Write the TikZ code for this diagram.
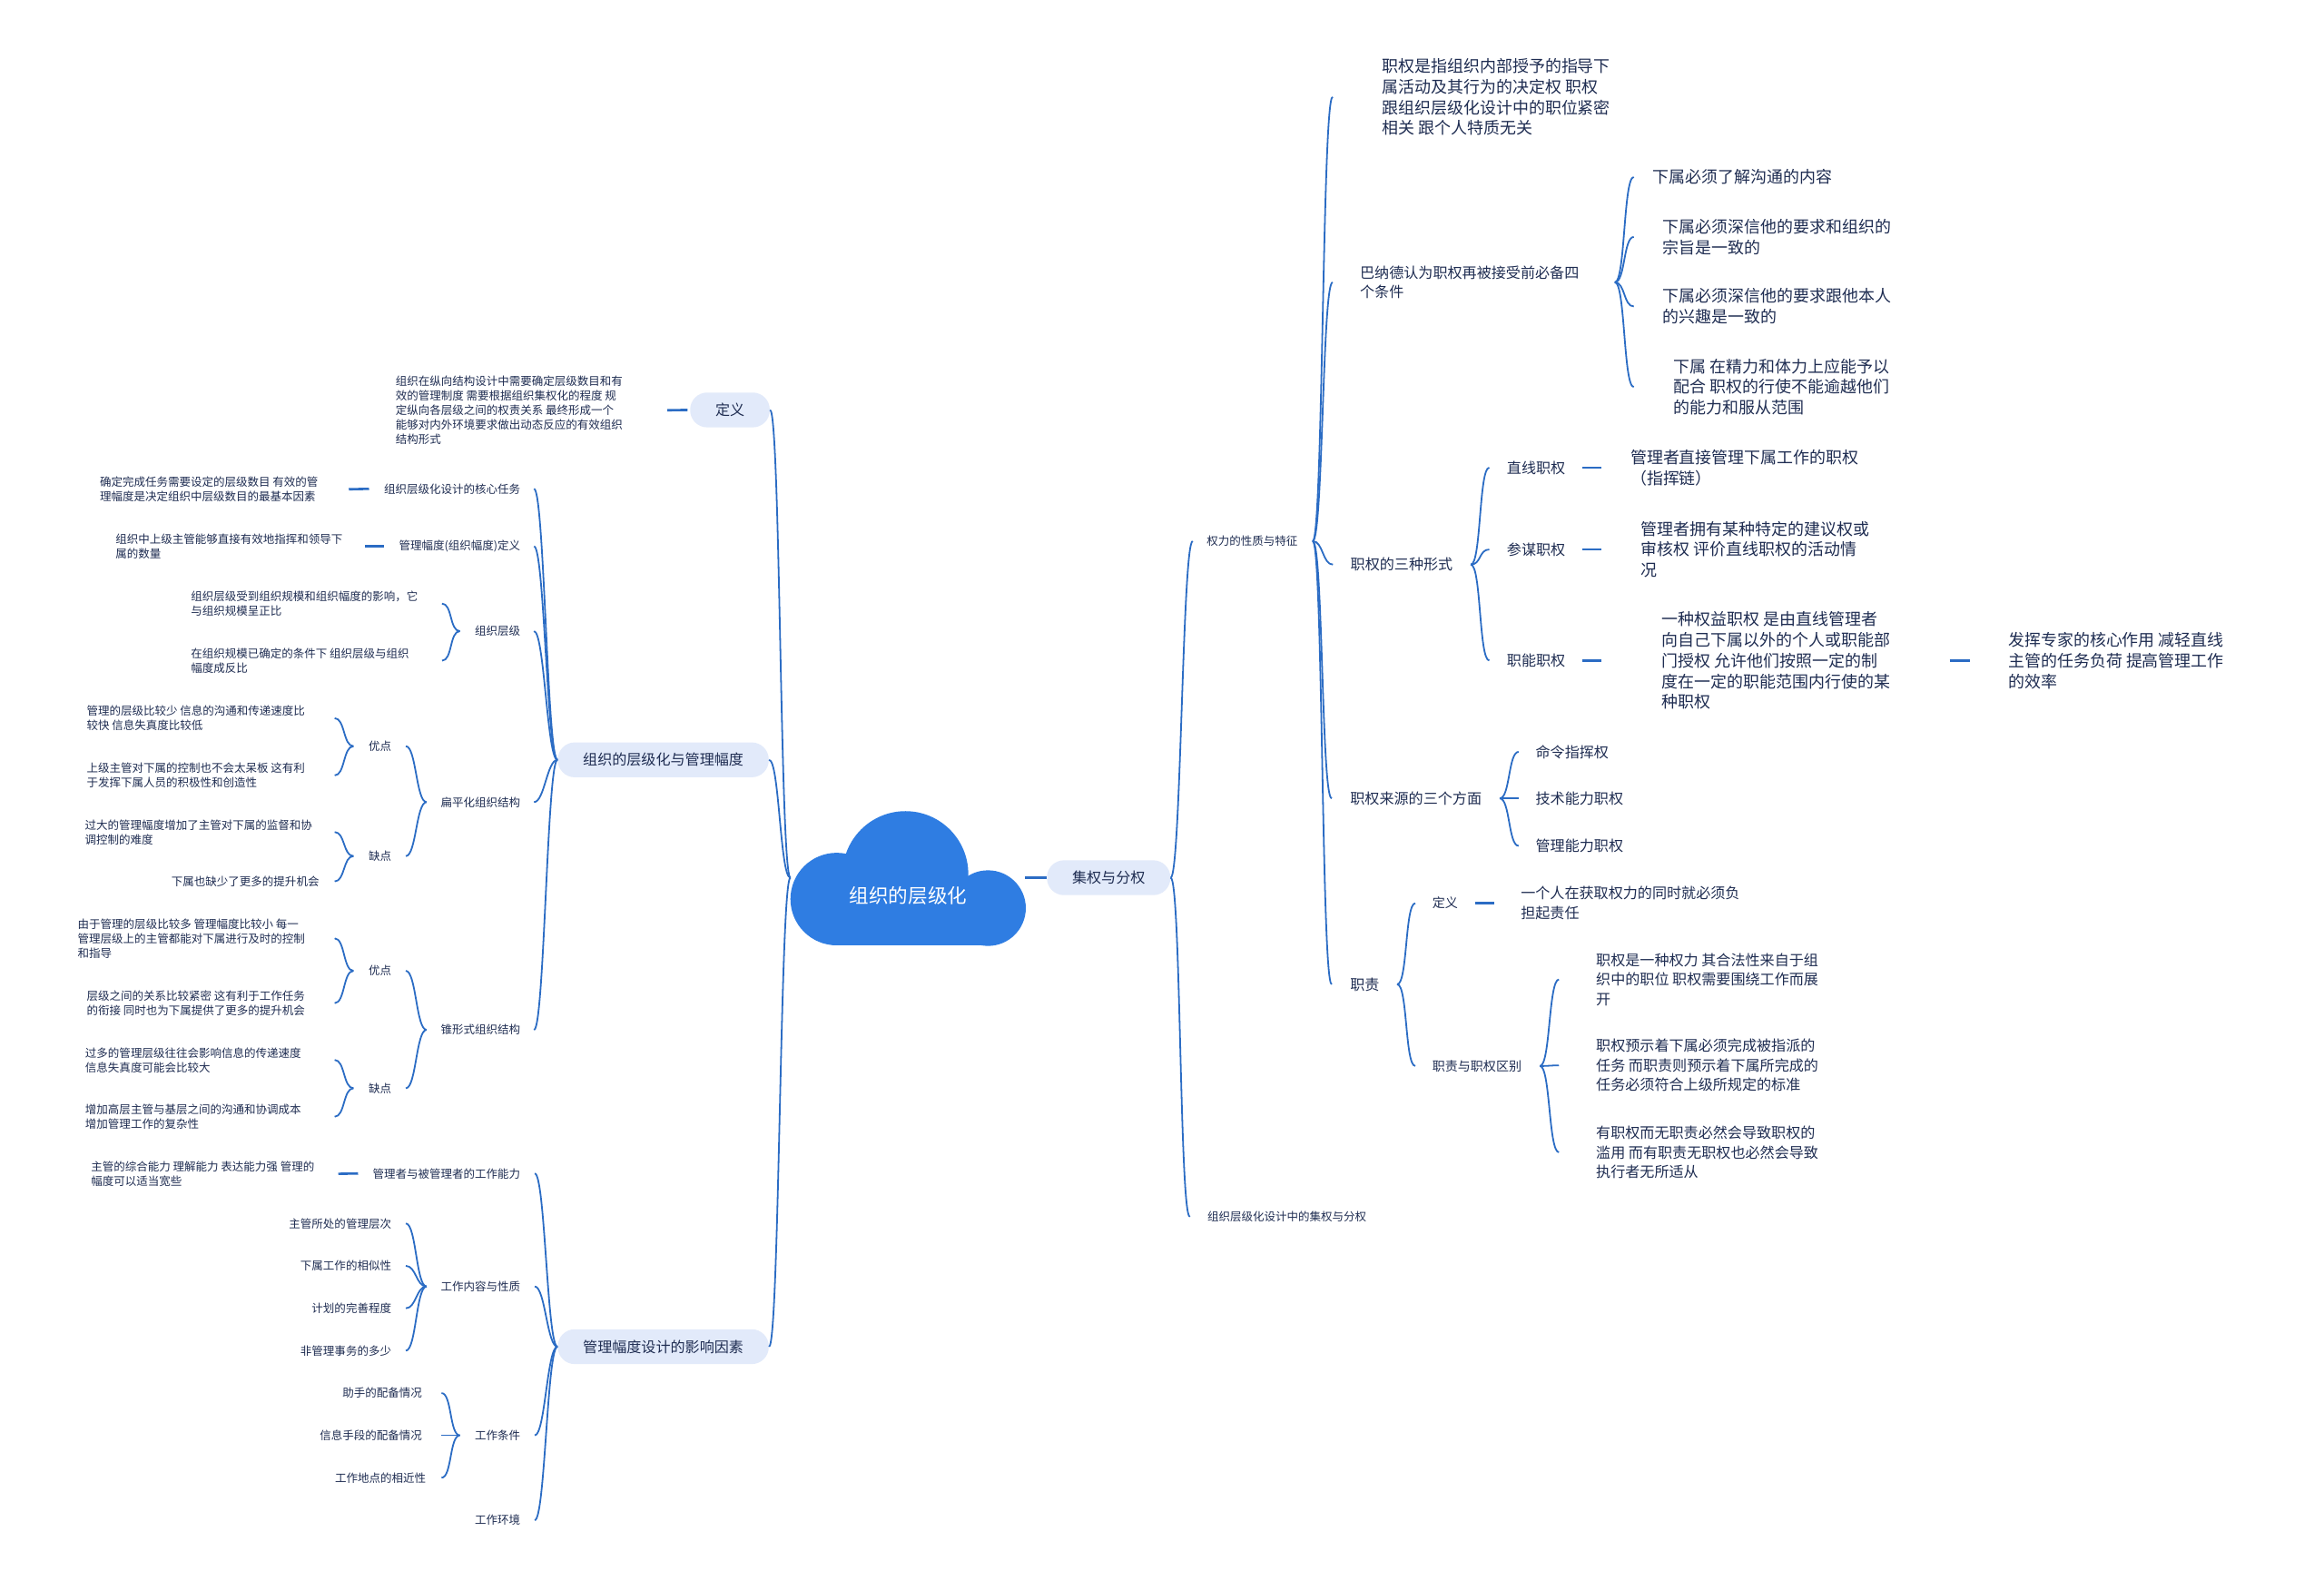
\documentclass[tikz,border=0pt]{standalone}
\usepackage{fontspec}
\setmainfont{Noto Sans CJK SC}

\definecolor{ink}{RGB}{31,45,82}
\definecolor{wire}{RGB}{43,108,196}
\definecolor{cloudblue}{RGB}{47,125,226}
\definecolor{pillfill}{RGB}{226,234,250}

\begin{document}
\begin{tikzpicture}[
    x=1pt, y=-1pt,
    txt/.style={inner sep=0pt, text=ink, align=left},
    xs/.style={txt, font=\fontsize{7.66}{9.8}\selectfont},
    sm/.style={txt, font=\fontsize{8.6}{10.5}\selectfont},
    md/.style={txt, font=\fontsize{9.85}{13.2}\selectfont},
    xl/.style={txt, font=\fontsize{11}{14}\selectfont},
    pill/.style={
        rectangle, fill=pillfill, text=ink,
        rounded corners=11.5pt, inner xsep=17pt, inner ysep=0pt,
        minimum height=23.5pt, font=\fontsize{9.85}{12}\selectfont
    },
    link/.style={draw=wire, line width=1.1pt},
    stub/.style={draw=wire, line width=1.6pt},
    lcurve/.style={out=180, in=0, distance=7pt},
    rcurve/.style={out=0, in=180, distance=7pt},
]
\useasboundingbox (0,0) rectangle (1568,1066);
\fill[white] (0,0) rectangle (1568,1066);

% Cloud
\fill[cloudblue] (564.5,606.4) circle (31.2pt);
\fill[cloudblue] (610.9,589.5) circle (42.4pt);
\fill[cloudblue] (666.6,612.5) circle (25.5pt);
\fill[cloudblue] (564.5,600) rectangle (666.6,637.5);
\node[inner sep=0pt, text=white, font=\fontsize{13.2}{16}\selectfont] (root) at (612.8,604.3) {组织的层级化};
\coordinate (rootL) at (533.3,592);
\coordinate (rootR) at (691.7,592);

% Main topics
\node[pill] (jq) at (748,592) {集权与分权};
\node[pill] (dy) at (492.5,276.5) {定义};
\node[pill] (cj) at (447.5,512.5) {组织的层级化与管理幅度};
\node[pill] (yx) at (447.5,908.3) {管理幅度设计的影响因素};

% Left: definition
\node[xs, anchor=west] (dyt) at (266.7,276.7) {组织在纵向结构设计中需要确定层级数目和有\\效的管理制度 需要根据组织集权化的程度 规\\定纵向各层级之间的权责关系 最终形成一个\\能够对内外环境要求做出动态反应的有效组织\\结构形式};

% Left: levels and span
\node[xs, anchor=east] (hx) at (351.3,329.7) {组织层级化设计的核心任务};
\node[xs, anchor=west] (hxt) at (67.2,330) {确定完成任务需要设定的层级数目 有效的管\\理幅度是决定组织中层级数目的最基本因素};
\node[xs, anchor=east] (gf) at (351.3,368.5) {管理幅度(组织幅度)定义};
\node[xs, anchor=west] (gft) at (77.8,368.5) {组织中上级主管能够直接有效地指挥和领导下\\属的数量};
\node[xs, anchor=east] (cjj) at (351.3,425.7) {组织层级};
\node[xs, anchor=west] (cjj1) at (128.6,407.1) {组织层级受到组织规模和组织幅度的影响，它\\与组织规模呈正比};
\node[xs, anchor=west] (cjj2) at (128.6,445.6) {在组织规模已确定的条件下 组织层级与组织\\幅度成反比};

\node[xs, anchor=east] (bp) at (351.3,541) {扁平化组织结构};
\node[xs, anchor=east] (bpy) at (264.2,503.3) {优点};
\node[xs, anchor=east] (bpq) at (264.2,577.4) {缺点};
\node[xs, anchor=east] (bpy1) at (206,484.4) {管理的层级比较少 信息的沟通和传递速度比\\较快 信息失真度比较低};
\node[xs, anchor=east] (bpy2) at (206,523) {上级主管对下属的控制也不会太呆板 这有利\\于发挥下属人员的积极性和创造性};
\node[xs, anchor=east] (bpq1) at (210.8,561.2) {过大的管理幅度增加了主管对下属的监督和协\\调控制的难度};
\node[xs, anchor=east] (bpq2) at (215.5,594.5) {下属也缺少了更多的提升机会};

\node[xs, anchor=east] (zx) at (351.3,694.6) {锥形式组织结构};
\node[xs, anchor=east] (zxy) at (264.2,654.8) {优点};
\node[xs, anchor=east] (zxq) at (264.2,734) {缺点};
\node[xs, anchor=east] (zxy1) at (205.9,632.9) {由于管理的层级比较多 管理幅度比较小 每一\\管理层级上的主管都能对下属进行及时的控制\\和指导};
\node[xs, anchor=east] (zxy2) at (206,676.6) {层级之间的关系比较紧密 这有利于工作任务\\的衔接 同时也为下属提供了更多的提升机会};
\node[xs, anchor=east] (zxq1) at (203.3,714.9) {过多的管理层级往往会影响信息的传递速度\\信息失真度可能会比较大};
\node[xs, anchor=east] (zxq2) at (203.3,753.2) {增加高层主管与基层之间的沟通和协调成本\\增加管理工作的复杂性};

% Left: factors
\node[xs, anchor=east] (nl) at (351.3,791.5) {管理者与被管理者的工作能力};
\node[xs, anchor=east] (nlt) at (212.3,791.7) {主管的综合能力 理解能力 表达能力强 管理的\\幅度可以适当宽些};
\node[xs, anchor=east] (nr) at (351.3,867.7) {工作内容与性质};
\node[xs, anchor=east] (nr1) at (264.2,825.2) {主管所处的管理层次};
\node[xs, anchor=east] (nr2) at (264.2,853.8) {下属工作的相似性};
\node[xs, anchor=east] (nr3) at (264.2,882.4) {计划的完善程度};
\node[xs, anchor=east] (nr4) at (264.2,911) {非管理事务的多少};
\node[xs, anchor=east] (tj) at (351.3,968.1) {工作条件};
\node[xs, anchor=east] (tj1) at (285,939.6) {助手的配备情况};
\node[xs, anchor=east] (tj2) at (285,968.1) {信息手段的配备情况};
\node[xs, anchor=east] (tj3) at (287.6,996.7) {工作地点的相近性};
\node[xs, anchor=east] (hj) at (351.3,1025.3) {工作环境};

% Right: power
\node[xs, anchor=west] (ql) at (814,365) {权力的性质与特征};
\node[xs, anchor=west] (jf) at (814.5,820.7) {组织层级化设计中的集权与分权};
\node[xl, anchor=west] (qla) at (932.3,65.4) {职权是指组织内部授予的指导下\\属活动及其行为的决定权 职权\\跟组织层级化设计中的职位紧密\\相关 跟个人特质无关};
\node[md, anchor=west] (bnd) at (917.4,190.4) {巴纳德认为职权再被接受前必备四\\个条件};
\node[xl, anchor=west] (bn1) at (1114.9,119.4) {下属必须了解沟通的内容};
\node[xl, anchor=west] (bn2) at (1121.6,159.8) {下属必须深信他的要求和组织的\\宗旨是一致的};
\node[xl, anchor=west] (bn3) at (1121.6,206.7) {下属必须深信他的要求跟他本人\\的兴趣是一致的};
\node[xl, anchor=west] (bn4) at (1129.2,261) {下属 在精力和体力上应能予以\\配合 职权的行使不能逾越他们\\的能力和服从范围};

\node[md, anchor=west] (sz) at (911,380.8) {职权的三种形式};
\node[md, anchor=west] (zhx) at (1016.5,315.4) {直线职权};
\node[xl, anchor=west] (zhxt) at (1099.9,315.4) {管理者直接管理下属工作的职权\\（指挥链）};
\node[md, anchor=west] (cm) at (1016.5,370.6) {参谋职权};
\node[xl, anchor=west] (cmt) at (1107,370.6) {管理者拥有某种特定的建议权或\\审核权 评价直线职权的活动情\\况};
\node[md, anchor=west] (zn) at (1016.5,445.5) {职能职权};
\node[xl, anchor=west] (znt) at (1121,445.5) {一种权益职权 是由直线管理者\\向自己下属以外的个人或职能部\\门授权 允许他们按照一定的制\\度在一定的职能范围内行使的某\\种职权};
\node[xl, anchor=west] (znt2) at (1354.8,445.5) {发挥专家的核心作用 减轻直线\\主管的任务负荷 提高管理工作\\的效率};

\node[md, anchor=west] (ly) at (910.8,538.5) {职权来源的三个方面};
\node[md, anchor=west] (ly1) at (1035.9,507.1) {命令指挥权};
\node[md, anchor=west] (ly2) at (1035.9,538.5) {技术能力职权};
\node[md, anchor=west] (ly3) at (1035.9,570.5) {管理能力职权};

\node[md, anchor=west] (zz) at (910.8,663.9) {职责};
\node[sm, anchor=west] (zzd) at (966.2,609.2) {定义};
\node[md, anchor=west] (zzdt) at (1025.9,609.2) {一个人在获取权力的同时就必须负\\担起责任};
\node[sm, anchor=west] (zzq) at (966.2,719) {职责与职权区别};
\node[md, anchor=west] (zzq1) at (1076.7,660.6) {职权是一种权力 其合法性来自于组\\织中的职位 职权需要围绕工作而展\\开};
\node[md, anchor=west] (zzq2) at (1076.7,718.6) {职权预示着下属必须完成被指派的\\任务 而职责则预示着下属所完成的\\任务必须符合上级所规定的标准};
\node[md, anchor=west] (zzq3) at (1076.7,777.2) {有职权而无职责必然会导致职权的\\滥用 而有职责无职权也必然会导致\\执行者无所适从};

% Connectors: root
\draw[link] (rootL) to[lcurve] (dy.east);
\draw[link] (rootL) to[lcurve] (cj.east);
\draw[link] (rootL) to[lcurve] (yx.east);
\draw[stub] (rootR) -- (jq.west);

% Connectors: left
\draw[stub] ([xshift=-1.5pt]dy.west) -- ([xshift=30pt]dyt.east);

\draw[link] (cj.west) to[lcurve] ([xshift=9pt]hx.east);
\draw[link] (cj.west) to[lcurve] ([xshift=9pt]gf.east);
\draw[link] (cj.west) to[lcurve] ([xshift=9pt]cjj.east);
\draw[link] (cj.west) to[lcurve] ([xshift=9pt]bp.east);
\draw[link] (cj.west) to[lcurve] ([xshift=9pt]zx.east);
\draw[stub] ([xshift=-10pt]hx.west) -- ([xshift=20.5pt]hxt.east);
\draw[stub] ([xshift=-10pt]gf.west) -- ([xshift=14.6pt]gft.east);
\draw[link] ([xshift=-10pt]cjj.west) to[lcurve] ([xshift=16pt]cjj1.east);
\draw[link] ([xshift=-10pt]cjj.west) to[lcurve] ([xshift=22pt]cjj2.east);

\draw[link] ([xshift=-9.5pt]bp.west) to[lcurve] ([xshift=9.6pt]bpy.east);
\draw[link] ([xshift=-9.5pt]bp.west) to[lcurve] ([xshift=9.6pt]bpq.east);
\draw[link] ([xshift=-10pt]bpy.west) to[lcurve] ([xshift=19.8pt]bpy1.east);
\draw[link] ([xshift=-10pt]bpy.west) to[lcurve] ([xshift=19.8pt]bpy2.east);
\draw[link] ([xshift=-10pt]bpq.west) to[lcurve] ([xshift=15pt]bpq1.east);
\draw[link] ([xshift=-10pt]bpq.west) to[lcurve] ([xshift=10.3pt]bpq2.east);

\draw[link] ([xshift=-9.5pt]zx.west) to[lcurve] ([xshift=9.6pt]zxy.east);
\draw[link] ([xshift=-9.5pt]zx.west) to[lcurve] ([xshift=9.6pt]zxq.east);
\draw[link] ([xshift=-10pt]zxy.west) to[lcurve] ([xshift=19.9pt]zxy1.east);
\draw[link] ([xshift=-10pt]zxy.west) to[lcurve] ([xshift=19.8pt]zxy2.east);
\draw[link] ([xshift=-10pt]zxq.west) to[lcurve] ([xshift=22.5pt]zxq1.east);
\draw[link] ([xshift=-10pt]zxq.west) to[lcurve] ([xshift=22.5pt]zxq2.east);

\draw[link] (yx.west) to[lcurve] ([xshift=9.5pt]nl.east);
\draw[link] (yx.west) to[lcurve] ([xshift=9.5pt]nr.east);
\draw[link] (yx.west) to[lcurve] ([xshift=9.5pt]tj.east);
\draw[link] (yx.west) to[lcurve] ([xshift=9.5pt]hj.east);
\draw[stub] ([xshift=-9.7pt]nl.west) -- ([xshift=16pt]nlt.east);
\draw[link] ([xshift=-9.5pt]nr.west) to[lcurve] ([xshift=9.6pt]nr1.east);
\draw[link] ([xshift=-9.5pt]nr.west) to[lcurve] ([xshift=9.6pt]nr2.east);
\draw[link] ([xshift=-9.5pt]nr.west) to[lcurve] ([xshift=9.6pt]nr3.east);
\draw[link] ([xshift=-9.5pt]nr.west) to[lcurve] ([xshift=9.6pt]nr4.east);
\draw[link] ([xshift=-10pt]tj.west) to[lcurve] ([xshift=12.9pt]tj1.east);
\draw[link] ([xshift=-10pt]tj.west) to[lcurve] ([xshift=12.9pt]tj2.east);
\draw[link] ([xshift=-10pt]tj.west) to[lcurve] ([xshift=10.3pt]tj3.east);

% Connectors: right
\draw[link] (jq.east) to[rcurve] ([xshift=-9.3pt]ql.west);
\draw[link] (jq.east) to[rcurve] ([xshift=-11.7pt]jf.west);
\draw[link] ([xshift=10pt]ql.east) to[rcurve] ([xshift=-33.2pt]qla.west);
\draw[link] ([xshift=10pt]ql.east) to[rcurve] ([xshift=-18.3pt]bnd.west);
\draw[link] ([xshift=10pt]ql.east) to[rcurve] ([xshift=-11.7pt]sz.west);
\draw[link] ([xshift=10pt]ql.east) to[rcurve] ([xshift=-12.3pt]ly.west);
\draw[link] ([xshift=10pt]ql.east) to[rcurve] ([xshift=-12.3pt]zz.west);

\draw[link] ([xshift=24pt]bnd.east) to[rcurve] ([xshift=-12.6pt]bn1.west);
\draw[link] ([xshift=24pt]bnd.east) to[rcurve] ([xshift=-19.3pt]bn2.west);
\draw[link] ([xshift=24pt]bnd.east) to[rcurve] ([xshift=-19.3pt]bn3.west);
\draw[link] ([xshift=24pt]bnd.east) to[rcurve] ([xshift=-26.9pt]bn4.west);

\draw[link] ([xshift=12pt]sz.east) to[rcurve] ([xshift=-11.7pt]zhx.west);
\draw[link] ([xshift=12pt]sz.east) to[rcurve] ([xshift=-11.7pt]cm.west);
\draw[link] ([xshift=12pt]sz.east) to[rcurve] ([xshift=-11.7pt]zn.west);
\draw[stub] ([xshift=11.2pt]zhx.east) -- ([xshift=-19.2pt]zhxt.west);
\draw[stub] ([xshift=11.2pt]cm.east) -- ([xshift=-26.3pt]cmt.west);
\draw[stub] ([xshift=11.2pt]zn.east) -- ([xshift=-40.3pt]znt.west);
\draw[stub] ([xshift=40pt]znt.east) -- ([xshift=-25.8pt]znt2.west);

\draw[link] ([xshift=12pt]ly.east) to[rcurve] ([xshift=-11.3pt]ly1.west);
\draw[link] ([xshift=12pt]ly.east) to[rcurve] ([xshift=-11.3pt]ly2.west);
\draw[link] ([xshift=12pt]ly.east) to[rcurve] ([xshift=-11.3pt]ly3.west);

\draw[link] ([xshift=11.8pt]zz.east) to[rcurve] ([xshift=-11.3pt]zzd.west);
\draw[link] ([xshift=11.8pt]zz.east) to[rcurve] ([xshift=-11.3pt]zzq.west);
\draw[stub] ([xshift=11.3pt]zzd.east) -- ([xshift=-17.9pt]zzdt.west);
\draw[link] ([xshift=12.2pt]zzq.east) to[rcurve] ([xshift=-24.9pt]zzq1.west);
\draw[link] ([xshift=12.2pt]zzq.east) to[rcurve] ([xshift=-24.9pt]zzq2.west);
\draw[link] ([xshift=12.2pt]zzq.east) to[rcurve] ([xshift=-24.9pt]zzq3.west);

\end{tikzpicture}
\end{document}
